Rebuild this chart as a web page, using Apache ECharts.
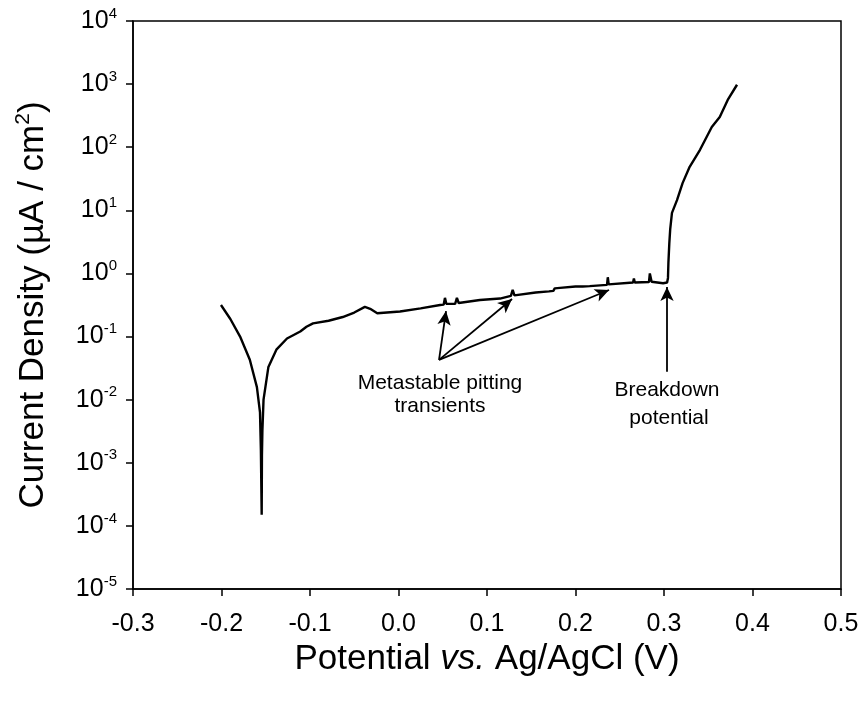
<!DOCTYPE html>
<html>
<head>
<meta charset="utf-8">
<script src="https://cdn.jsdelivr.net/npm/echarts@6/dist/echarts.min.js"></script>
<style>
  html, body { margin: 0; padding: 0; background: #fff; }
  #chart { width: 864px; height: 704px; }
</style>
</head>
<body>
<div id="chart"></div>
<script>
// Anodic polarization scan: potential (V vs. Ag/AgCl) and current density (µA/cm²)
const potential = [
  -0.2006, -0.190, -0.179, -0.168, -0.160, -0.1565, -0.1555, -0.1546,
  -0.1543, -0.1538, -0.1525, -0.147, -0.138, -0.126, -0.111, -0.104,
  -0.0966, -0.079, -0.063, -0.050, -0.038, -0.032, -0.024, 0.0017,
  0.025, 0.047, 0.051, 0.0525, 0.054, 0.064, 0.066, 0.068,
  0.092, 0.1147, 0.127, 0.129, 0.131, 0.155, 0.170, 0.175,
  0.1765, 0.1825, 0.200, 0.208, 0.209, 0.216, 0.2356, 0.2365,
  0.2375, 0.265, 0.266, 0.267, 0.283, 0.284, 0.286, 0.299,
  0.3035, 0.3045, 0.305, 0.306, 0.307, 0.309, 0.3147, 0.321,
  0.329, 0.3407, 0.354, 0.363, 0.372, 0.3825
];
const currentDensity = [
  0.316, 0.19, 0.10, 0.043, 0.0158, 0.0063, 0.0016, 0.00015,
  0.0013, 0.0032, 0.010, 0.033, 0.062, 0.093, 0.12, 0.143,
  0.162, 0.178, 0.204, 0.24, 0.295, 0.275, 0.234, 0.25,
  0.28, 0.316, 0.32, 0.41, 0.33, 0.33, 0.41, 0.34,
  0.38, 0.40, 0.44, 0.55, 0.45, 0.50, 0.52, 0.53,
  0.58, 0.59, 0.62, 0.62, 0.66, 0.63, 0.66, 0.87,
  0.67, 0.72, 0.83, 0.72, 0.73, 1.0, 0.74, 0.70,
  0.72, 0.85, 1.5, 3.0, 5.0, 9.1, 14.5, 27,
  49, 91, 209, 302, 562, 977
];

// Annotation arrows: [potential, current density] tail -> head
const transientArrowTail = [0.0458, 0.0427];
const transientArrowHeads = [[0.0537, 0.2535], [0.1283, 0.393], [0.2379, 0.546]];
const breakdownArrow = [[0.3034, 0.0276], [0.3034, 0.61]];

const xTicks = { min: -0.3, max: 0.5, step: 0.1 };
const yDecades = { min: 1e-5, max: 1e4 };

const transientLabel = ['Metastable pitting', 'transients'];
const breakdownLabel = ['Breakdown', 'potential'];

const FONT = 'Liberation Sans, Arial, sans-serif';

const seriesData = potential.map((p, i) => [p, currentDensity[i]]);

const arrowLines = transientArrowHeads.map(h => [
  { coord: transientArrowTail },
  { coord: h }
]);
arrowLines.push([{ coord: breakdownArrow[0] }, { coord: breakdownArrow[1] }]);

function noteText(text, x, y) {
  return {
    type: 'text', x: x, y: y, silent: true,
    style: {
      text: text, fontFamily: FONT, fontSize: 21, fill: '#000',
      align: 'center', verticalAlign: 'middle'
    }
  };
}

const chart = echarts.init(document.getElementById('chart'), null, { renderer: 'canvas' });

chart.setOption({
  animation: false,
  backgroundColor: '#fff',
  grid: {
    left: 133, right: 23, top: 21, bottom: 115,
    show: true, borderColor: '#000', borderWidth: 1.5, backgroundColor: 'transparent'
  },
  xAxis: {
    type: 'value',
    min: xTicks.min, max: xTicks.max, interval: xTicks.step,
    axisLine: { show: true, onZero: false, lineStyle: { color: '#000', width: 1.5 } },
    axisTick: { show: true, inside: false, length: 7, lineStyle: { color: '#000', width: 1.5 } },
    splitLine: { show: false },
    axisLabel: {
      color: '#000', fontFamily: FONT, fontSize: 25, margin: 23,
      formatter: v => v.toFixed(1)
    },
    name: '{n|Potential }{i|vs.}{n| Ag/AgCl (V)}',
    nameLocation: 'middle',
    nameGap: 46,
    nameTextStyle: {
      rich: {
        n: { fontFamily: FONT, fontSize: 35, color: '#000' },
        i: { fontFamily: FONT, fontSize: 35, color: '#000', fontStyle: 'italic' }
      }
    }
  },
  yAxis: {
    type: 'log', logBase: 10,
    min: yDecades.min, max: yDecades.max,
    axisLine: { show: true, onZero: false, lineStyle: { color: '#000', width: 1.5 } },
    axisTick: { show: true, inside: false, length: 7, lineStyle: { color: '#000', width: 1.5 } },
    splitLine: { show: false },
    axisLabel: {
      margin: 16,
      formatter: v => '{b|10}{s|' + Math.round(Math.log10(v)) + '}',
      rich: {
        b: { fontFamily: FONT, fontSize: 25, color: '#000', lineHeight: 30 },
        s: { fontFamily: FONT, fontSize: 15, color: '#000', lineHeight: 17, verticalAlign: 'top' }
      }
    },
    name: '{n|Current Density (µA / cm}{s|2}{n|)}',
    nameLocation: 'middle',
    nameGap: 80,
    nameTextStyle: {
      rich: {
        n: { fontFamily: FONT, fontSize: 35, color: '#000', lineHeight: 40 },
        s: { fontFamily: FONT, fontSize: 21, color: '#000', lineHeight: 22, verticalAlign: 'top' }
      }
    }
  },
  series: [{
    type: 'line',
    data: seriesData,
    showSymbol: false,
    symbol: 'none',
    lineStyle: { color: '#000', width: 2.4 },
    silent: true,
    markLine: {
      silent: true,
      symbol: ['none', 'arrow'],
      symbolSize: [10, 14],
      label: { show: false },
      lineStyle: { color: '#000', width: 1.8, type: 'solid' },
      emphasis: { disabled: true },
      data: arrowLines
    }
  }],
  graphic: [
    noteText(transientLabel[0], 440, 383),
    noteText(transientLabel[1], 440, 406),
    noteText(breakdownLabel[0], 667, 390),
    noteText(breakdownLabel[1], 669, 418)
  ]
});
</script>
</body>
</html>
